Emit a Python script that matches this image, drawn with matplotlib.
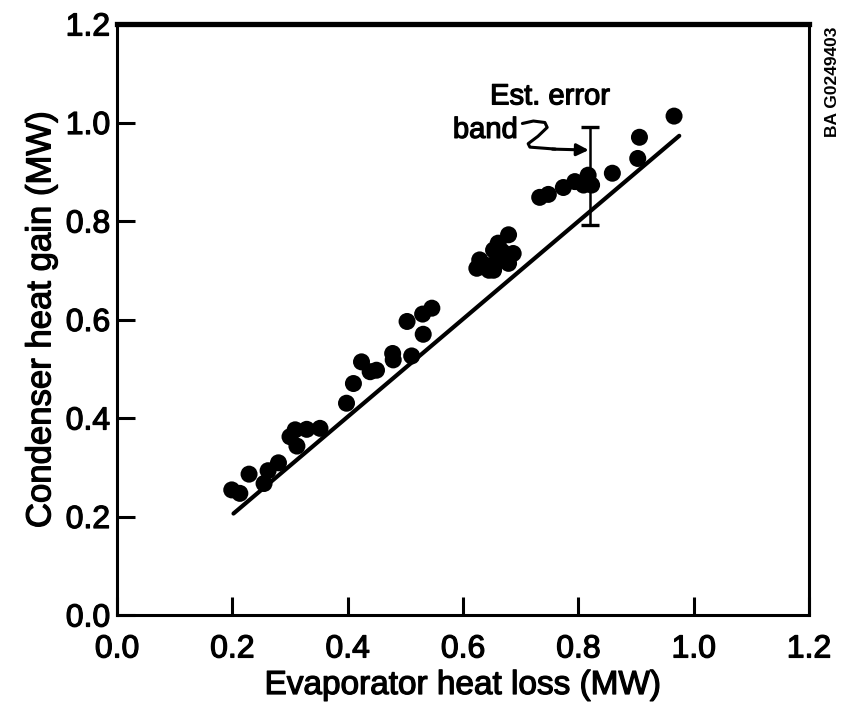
import matplotlib
matplotlib.use("Agg")
import matplotlib.pyplot as plt
import matplotlib.patheffects as pe
import numpy as np

plt.rcParams['font.family'] = ['Liberation Sans', 'DejaVu Sans']

# ---- data ----
evap = [0.199, 0.213, 0.229, 0.255, 0.262, 0.280, 0.300, 0.312, 0.309, 0.329, 0.352,
        0.398, 0.410, 0.424, 0.439, 0.450, 0.478, 0.479, 0.511, 0.503, 0.531, 0.530, 0.546,
        0.624, 0.629, 0.638, 0.645, 0.653, 0.658, 0.653, 0.661, 0.668, 0.679, 0.687, 0.679,
        0.733, 0.748, 0.774, 0.794, 0.809, 0.817, 0.823, 0.859, 0.903, 0.906, 0.966]
cond = [0.254, 0.247, 0.286, 0.267, 0.293, 0.309, 0.362, 0.343, 0.376, 0.377, 0.379,
        0.430, 0.470, 0.514, 0.494, 0.497, 0.531, 0.518, 0.526, 0.596, 0.570, 0.611, 0.623,
        0.704, 0.721, 0.711, 0.700, 0.700, 0.717, 0.741, 0.755, 0.738, 0.772, 0.734, 0.714,
        0.848, 0.854, 0.868, 0.880, 0.873, 0.893, 0.873, 0.897, 0.927, 0.970, 1.013]

fit_x = [0.202, 0.975]
fit_y = [0.206, 0.973]

err_x = 0.820
err_low = 0.792
err_high = 0.991

ticks = [0.0, 0.2, 0.4, 0.6, 0.8, 1.0, 1.2]
tick_labels = ["0.0", "0.2", "0.4", "0.6", "0.8", "1.0", "1.2"]

thick = [pe.withStroke(linewidth=0.9, foreground='black')]

# ---- figure ----
fig = plt.figure(figsize=(8.49, 7.08), dpi=100)
ax = fig.add_axes([117/849, 1-615/708, (809-117)/849, (615-24)/708])

ax.plot(fit_x, fit_y, color='black', lw=3.0, solid_capstyle='round', zorder=2)
ax.scatter(evap, cond, s=150, color='black', edgecolors='none', zorder=3)

mid = (err_low + err_high) / 2
ax.errorbar([err_x], [mid], yerr=[[mid - err_low], [err_high - mid]], fmt='none',
            ecolor='black', elinewidth=1.8, capsize=6.5, capthick=2.4, zorder=4)

# hand-drawn squiggle pointing to error bar
sq_x = [0.703, 0.722, 0.742, 0.746, 0.730, 0.713, 0.716, 0.760]
sq_y = [0.998, 1.003, 1.000, 0.990, 0.972, 0.957, 0.950, 0.946]
ax.plot(sq_x, sq_y, color='black', lw=2.2, solid_capstyle='round', zorder=4)
ax.annotate('', xy=(err_x - 0.002, 0.944), xytext=(0.755, 0.946),
            arrowprops=dict(arrowstyle='-|>', color='black', lw=2.2,
                            mutation_scale=18, shrinkA=0, shrinkB=0))

ax.text(0.855, 1.053, "Est. error", fontsize=21, ha='right', va='center', path_effects=thick)
ax.text(0.695, 0.985, "band", fontsize=21, ha='right', va='center', path_effects=thick)

ax.set_xlim(0, 1.2)
ax.set_ylim(0, 1.2)
ax.set_xticks(ticks)
ax.set_xticklabels(tick_labels)
ax.set_yticks(ticks)
ax.set_yticklabels(tick_labels)
ax.tick_params(axis='both', direction='in', length=13, width=2.2, labelsize=23,
               top=False, right=False)
ax.tick_params(axis='x', pad=14)
ax.tick_params(axis='y', pad=5)
for lab in ax.get_xticklabels() + ax.get_yticklabels():
    lab.set_path_effects(thick)

for side in ['left', 'bottom', 'right']:
    ax.spines[side].set_linewidth(2.2)
ax.spines['top'].set_linewidth(3.8)

ax.set_xlabel("Evaporator heat loss (MW)", fontsize=24, labelpad=4, path_effects=thick)
ax.set_ylabel("Condenser heat gain (MW)", fontsize=25, labelpad=6, path_effects=thick)

fig.text(0.980, 0.885, "BA G0249403", rotation=90, fontsize=12.5, fontweight='bold',
         ha='center', va='center')

fig.savefig("out.png", dpi=100)
